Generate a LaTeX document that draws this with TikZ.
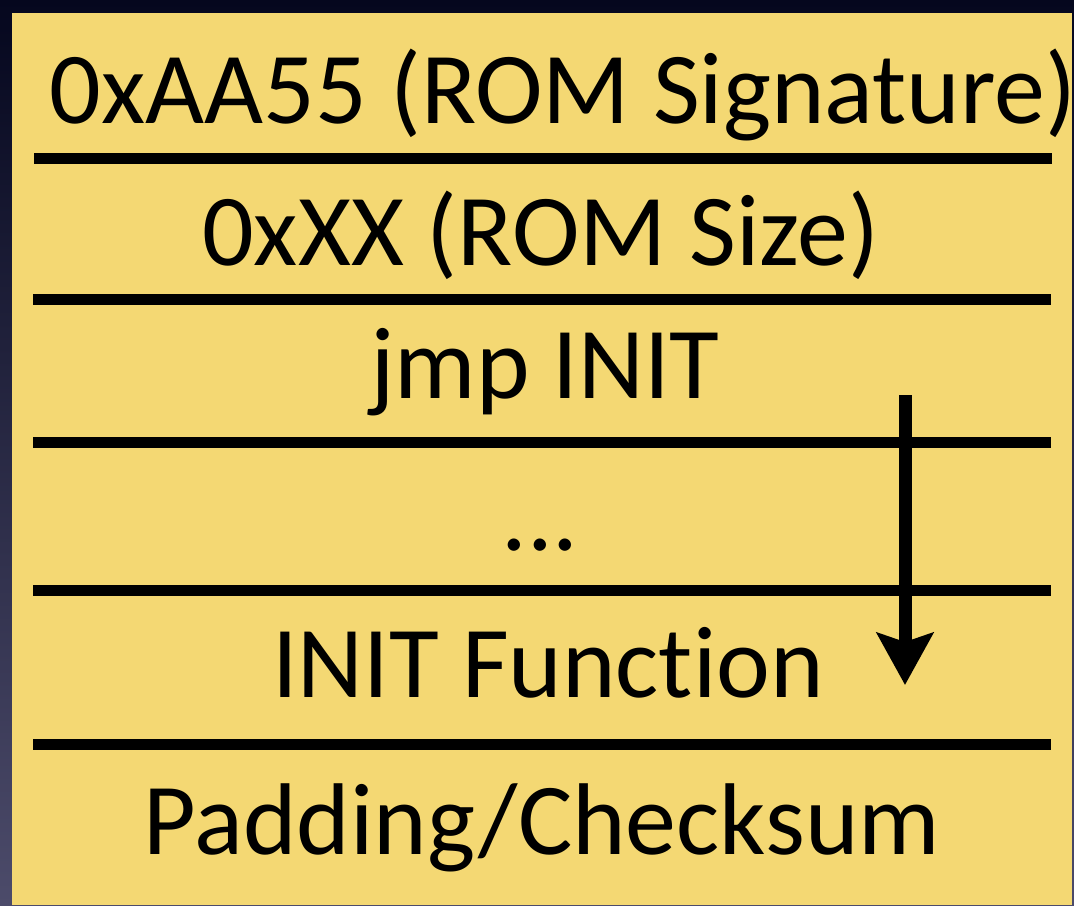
\documentclass[tikz,border=0pt]{standalone}
\usepackage{fontspec}
\setmainfont{Carlito}[Ligatures={NoCommon}]
\usetikzlibrary{arrows.meta}
\definecolor{slide}{RGB}{244,216,115}
\definecolor{navytop}{RGB}{5,7,30}
\definecolor{navybot}{RGB}{76,75,106}

\begin{document}
\begin{tikzpicture}[auto,
    row/.style={anchor=base, inner sep=0pt, font=\fontsize{29}{30}\selectfont},
    sep/.style={line width=0.11cm},
    jump/.style={line width=0.13cm, -{Stealth[length=0.52cm, width=0.56cm, inset=0.09cm]}}]
    % slide and paper
    \shade[top color=navytop, bottom color=navybot] (0, 0) rectangle (10.74, 9.05);
    \fill[slide] (0.12, 0) rectangle (10.72, 8.92);
    \useasboundingbox (0, 0) rectangle (10.74, 9.05);
    \node[row] (sig) at (5.63, 7.82) {0xAA55 (ROM Signature)};
    \node[row] (size) at (5.41, 6.40) {0xXX (ROM Size)};
    \node[row] (jmp) at (5.45, 5.07) {jmp INIT};
    \node[row] (dots) at (5.40, 3.55) {...};
    \node[row] (init) at (5.48, 2.08) {INIT Function};
    \node[row] (pad) at (5.42, 0.51) {Padding/Checksum};
    \draw [sep] (0.34, 7.47) -- (10.52, 7.47);
    \draw [sep] (0.33, 6.06) -- (10.51, 6.06);
    \draw [sep] (0.33, 4.63) -- (10.51, 4.63);
    \draw [sep] (0.33, 3.15) -- (10.51, 3.15);
    \draw [sep] (0.33, 1.61) -- (10.51, 1.61);
    \coordinate (from) at (9.05, 5.10);
    \coordinate (to) at (9.05, 2.20);
    \draw [jump] (from) to (to);
  \end{tikzpicture}
\end{document}
